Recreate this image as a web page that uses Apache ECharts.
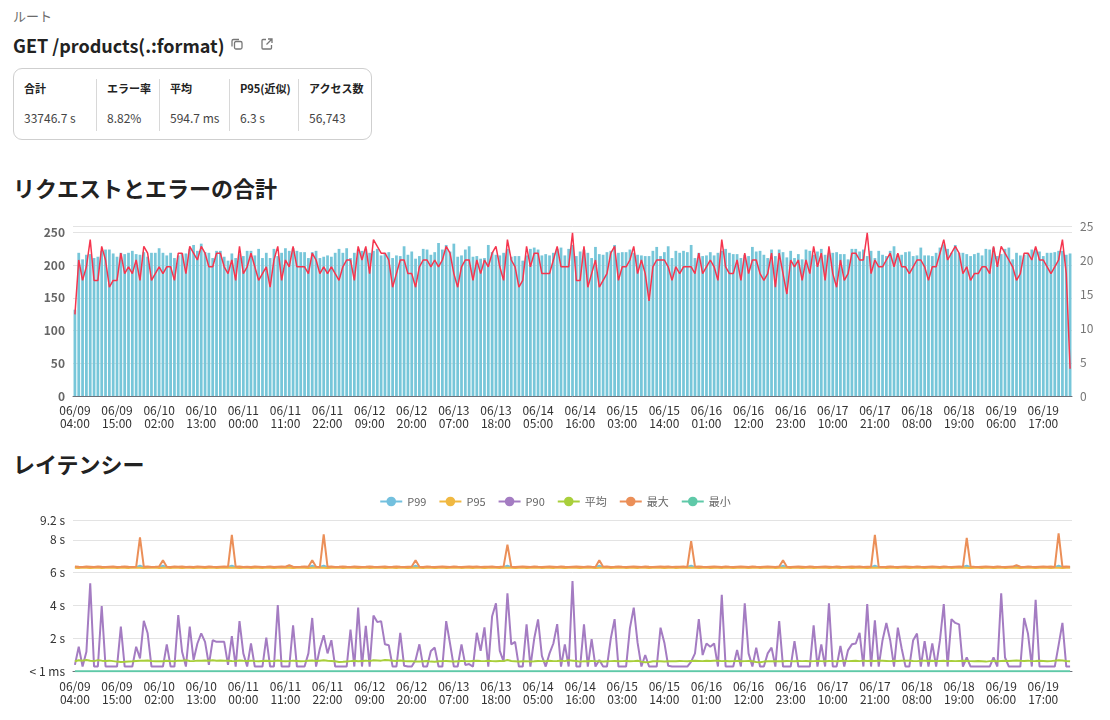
<!DOCTYPE html>
<html lang="ja">
<head>
<meta charset="utf-8">
<title>GET /products(.:format)</title>
<script src="https://cdn.jsdelivr.net/npm/echarts@6.0.0/dist/echarts.min.js"></script>
<style>
  body {
    margin: 0;
    width: 1110px;
    height: 720px;
    position: relative;
    overflow: hidden;
    background: #fff;
    color: #222;
    font-family: "Noto Sans CJK JP", "Noto Sans", sans-serif;
  }
  .crumb { position: absolute; left: 13px; top: 6px; font-size: 13px; color: #6b6b6b; }
  .route { position: absolute; left: 13px; top: 32px; font-size: 18px; font-weight: bold; line-height: 26px; }
  .icon { position: absolute; top: 37px; }
  .stats {
    position: absolute; left: 13px; top: 68px; width: 357px; height: 70px;
    border: 1px solid #cfcfcf; border-radius: 9px; display: flex;
  }
  .cell { padding-left: 10px; margin-top: 10px; height: 52px; box-sizing: border-box; }
  .cell + .cell { border-left: 1px solid #d8d8d8; }
  .cell .h { font-size: 11px; font-weight: bold; line-height: 16px; margin-top: 1px; color: #222; }
  .cell .v { font-size: 12px; line-height: 16px; margin-top: 14px; color: #444; }
  .section { position: absolute; left: 13px; font-size: 22px; font-weight: bold; line-height: 28px; }
  .chart { position: absolute; left: 0; width: 1110px; height: 240px; }
</style>
</head>
<body>
<div class="crumb">ルート</div>
<div class="route">GET /products(.:format)</div>
<svg class="icon" style="left:230px" width="14" height="14" viewBox="0 0 14 14" fill="none" stroke="#777" stroke-width="1.3">
  <rect x="4.5" y="4.5" width="7.5" height="7.5" rx="1.5"/>
  <path d="M9 2.5 H3.5 A1.5 1.5 0 0 0 2 4 V9.5"/>
</svg>
<svg class="icon" style="left:260px" width="14" height="14" viewBox="0 0 14 14" fill="none" stroke="#777" stroke-width="1.3">
  <path d="M6 2.5 H3 A1 1 0 0 0 2 3.5 V11 A1 1 0 0 0 3 12 H10.5 A1 1 0 0 0 11.5 11 V8"/>
  <path d="M8 2 H12 V6 M12 2 L6.5 7.5"/>
</svg>

<div class="stats">
  <div class="cell" style="width:82px"><div class="h">合計</div><div class="v">33746.7 s</div></div>
  <div class="cell" style="width:63px"><div class="h">エラー率</div><div class="v">8.82%</div></div>
  <div class="cell" style="width:70px"><div class="h">平均</div><div class="v">594.7 ms</div></div>
  <div class="cell" style="width:69px"><div class="h">P95(近似)</div><div class="v">6.3 s</div></div>
  <div class="cell" style="width:73px"><div class="h">アクセス数</div><div class="v">56,743</div></div>
</div>

<div class="section" style="top:173px">リクエストとエラーの合計</div>
<div id="chart_total" class="chart" style="top:200px"></div>

<div class="section" style="top:449px">レイテンシー</div>
<div id="chart_latency" class="chart" style="top:480px"></div>

<script>
// hourly buckets, 06/09 04:00 .. 06/20 00:00
const startTime = Date.UTC(2024, 5, 9, 4, 0);
const bucketCount = 261;
const categories = [];
for (let i = 0; i < bucketCount; i++) {
    const d = new Date(startTime + i * 3600 * 1000);
    const p = n => String(n).padStart(2, '0');
    categories.push(p(d.getUTCMonth() + 1) + '/' + p(d.getUTCDate()) + '\n' + p(d.getUTCHours()) + ':00');
}

// requests per hour (bars, left axis)
const requests = [
    132,219,209,216,217,211,213,222,224,224,
    218,213,219,217,219,222,217,216,220,213,
    219,219,226,219,215,219,211,215,218,218,
    225,231,222,233,220,219,211,222,222,213,
    207,218,211,217,214,222,222,215,225,211,
    219,211,225,214,219,226,222,226,222,220,
    220,211,220,222,211,213,215,213,219,225,
    219,226,211,219,224,222,225,219,222,225,
    215,219,220,211,215,214,229,216,
    221,210,214,225,224,216,220,234,224,231,
    221,233,213,215,224,229,213,214,210,211,
    231,220,216,215,219,225,213,214,214,207,
    215,225,227,224,215,217,215,219,225,227,
    215,225,231,214,221,224,219,211,228,217,
    216,220,222,231,219,220,220,224,219,216,
    215,214,214,222,228,214,220,229,211,222,
    219,222,220,231,211,219,214,215,220,215,
    219,222,225,219,217,217,
    211,216,214,228,221,222,216,211,224,214,
    224,220,212,222,211,217,209,224,222,216,
    221,225,216,219,219,220,217,217,209,225,
    225,221,224,214,222,211,222,216,214,222,
    229,217,216,220,221,214,215,227,215,215,
    214,219,227,232,225,219,231,219,219,217,
    214,217,219,215,225,224,227,214,217,225,
    227,209,219,215,216,219,224,225,221,214,
    219,219,220,222,222,216,218
];

// errors per hour (line, right axis)
const errors = [
    12,20,17,19,23,17,17,22,20,16,
    17,17,21,18,19,18,20,17,22,21,
    17,18,19,18,19,19,17,21,21,18,
    22,21,20,22,21,19,19,21,21,19,
    18,20,17,22,18,19,21,19,17,18,
    19,16,20,22,17,20,19,22,19,19,
    19,18,21,20,18,19,18,19,18,17,
    19,20,20,17,22,20,22,18,23,22,
    21,21,20,16,18,20,20,18,
    18,16,19,20,20,19,20,19,20,22,
    21,18,16,19,20,20,17,20,18,20,
    19,21,22,19,17,23,20,19,16,17,
    22,19,21,21,18,18,18,20,22,19,
    19,19,24,17,17,22,16,18,20,16,
    17,18,21,22,17,19,19,20,22,18,
    20,18,14,19,20,20,20,19,17,19,
    18,19,19,19,18,21,18,19,20,19,
    17,23,19,18,18,20,
    17,21,18,20,20,18,17,18,21,
    16,21,18,15,20,19,20,17,20,18,
    22,19,21,17,22,18,16,20,17,18,
    21,21,20,20,24,18,20,19,19,20,
    21,19,21,19,19,18,19,20,20,19,
    17,19,19,21,23,20,21,22,21,18,
    19,17,18,18,19,19,18,22,19,22,
    21,20,19,17,18,21,21,20,22,20,
    20,19,18,19,20,23,18,4
];

// latency in seconds
const p99 = [
    6.34,6.33,6.35,6.34,6.33,6.34,6.35,6.33,6.34,6.34,
    6.35,6.33,6.34,6.34,6.33,6.35,6.34,6.42,6.34,6.33,
    6.34,6.35,6.33,6.42,6.34,6.33,6.35,6.34,6.33,6.34,
    6.34,6.33,6.35,6.34,6.33,6.34,6.35,6.33,6.34,6.34,
    6.35,6.42,6.34,6.33,6.34,6.35,6.33,6.34,6.34,6.33,
    6.35,6.34,6.33,6.34,6.35,6.34,6.40,6.33,6.34,6.35,
    6.34,6.33,6.42,6.34,6.35,6.42,6.33,6.34,6.34,6.35,
    6.33,6.34,6.35,6.34,6.33,6.34,6.35,6.33,6.34,6.34,
    6.35,6.33,6.34,6.34,6.33,6.35,6.34,6.33,6.34,6.42,
    6.34,6.33,6.35,6.34,6.33,6.34,6.35,6.33,6.34,6.34,
    6.35,6.33,6.34,6.34,6.33,6.35,6.34,6.33,6.34,6.35,
    6.34,6.33,6.35,6.42,6.34,6.33,6.34,6.35,6.33,6.34,
    6.34,6.35,6.33,6.34,6.34,6.33,6.35,6.34,6.33,6.34,
    6.35,6.34,6.33,6.34,6.35,6.34,6.33,6.42,6.34,6.35,
    6.33,6.34,6.34,6.35,6.33,6.34,6.34,6.33,6.35,6.34,
    6.33,6.34,6.35,6.34,6.33,6.34,6.35,6.33,6.34,6.34,
    6.35,6.42,6.34,6.33,6.34,6.35,6.33,6.34,6.34,6.33,
    6.35,6.34,6.33,6.34,6.35,6.34,6.33,6.34,6.35,6.33,
    6.34,6.34,6.35,6.33,6.34,6.42,6.34,6.33,6.35,6.34,
    6.33,6.34,6.35,6.33,6.34,6.34,6.35,6.33,6.34,6.34,
    6.33,6.35,6.34,6.33,6.34,6.35,6.34,6.33,6.34,6.42,
    6.34,6.35,6.33,6.34,6.34,6.33,6.35,6.34,6.33,6.34,
    6.35,6.34,6.33,6.34,6.35,6.34,6.33,6.34,6.35,6.33,
    6.34,6.34,6.35,6.42,6.33,6.34,6.34,6.33,6.35,6.34,
    6.33,6.34,6.35,6.33,6.34,6.34,6.40,6.33,6.34,6.35,
    6.34,6.33,6.34,6.35,6.34,6.33,6.34,6.42,6.33,6.34,
    6.34
];

const p95 = [
    6.30,6.29,6.31,6.30,6.29,6.30,6.31,6.29,6.30,6.30,
    6.31,6.29,6.30,6.30,6.29,6.31,6.30,6.30,6.29,6.30,
    6.30,6.31,6.29,6.30,6.30,6.29,6.31,6.30,6.29,6.30,
    6.30,6.29,6.31,6.30,6.29,6.30,6.31,6.29,6.30,6.30,
    6.31,6.30,6.30,6.29,6.30,6.31,6.29,6.30,6.30,6.29,
    6.31,6.30,6.29,6.30,6.31,6.30,6.30,6.29,6.30,6.31,
    6.30,6.29,6.30,6.30,6.31,6.30,6.29,6.30,6.30,6.31,
    6.29,6.30,6.31,6.30,6.29,6.30,6.31,6.29,6.30,6.30,
    6.31,6.29,6.30,6.30,6.29,6.31,6.30,6.29,6.30,6.30,
    6.30,6.29,6.31,6.30,6.29,6.30,6.31,6.29,6.30,6.30,
    6.31,6.29,6.30,6.30,6.29,6.31,6.30,6.29,6.30,6.31,
    6.30,6.29,6.31,6.30,6.30,6.29,6.30,6.31,6.29,6.30,
    6.30,6.31,6.29,6.30,6.30,6.29,6.31,6.30,6.29,6.30,
    6.31,6.30,6.29,6.30,6.31,6.30,6.29,6.30,6.30,6.31,
    6.29,6.30,6.30,6.31,6.29,6.30,6.30,6.29,6.31,6.30,
    6.29,6.30,6.31,6.30,6.29,6.30,6.31,6.29,6.30,6.30,
    6.31,6.30,6.30,6.29,6.30,6.31,6.29,6.30,6.30,6.29,
    6.31,6.30,6.29,6.30,6.31,6.30,6.29,6.30,6.31,6.29,
    6.30,6.30,6.31,6.29,6.30,6.30,6.30,6.29,6.31,6.30,
    6.29,6.30,6.31,6.29,6.30,6.30,6.31,6.29,6.30,6.30,
    6.29,6.31,6.30,6.29,6.30,6.31,6.30,6.29,6.30,6.30,
    6.30,6.31,6.29,6.30,6.30,6.29,6.31,6.30,6.29,6.30,
    6.31,6.30,6.29,6.30,6.31,6.30,6.29,6.30,6.31,6.29,
    6.30,6.30,6.31,6.30,6.29,6.30,6.30,6.29,6.31,6.30,
    6.29,6.30,6.31,6.29,6.30,6.30,6.30,6.29,6.30,6.31,
    6.30,6.29,6.30,6.31,6.30,6.29,6.30,6.30,6.29,6.30,
    6.30
];

const p90 = [
    0.4,1.5,0.3,1.2,5.35,0.3,0.3,3.98,0.3,0.3,
    0.3,0.3,2.72,0.3,0.3,0.3,1.5,0.8,3.08,2.32,
    0.3,0.3,0.3,0.3,1.65,0.3,0.3,3.43,1.2,0.3,
    2.72,0.7,1.7,2.32,1.8,0.4,1.9,1.8,1.8,1.8,
    0.4,2.15,0.3,3.06,1.1,0.3,1.7,0.3,0.3,0.3,
    2.06,0.3,0.3,4.04,0.3,0.3,0.3,2.8,0.3,0.3,
    0.3,1.1,3.25,0.3,1.4,2.2,1.1,1.9,0.3,0.3,
    0.3,0.3,2.55,0.3,3.88,0.3,2.77,0.3,3.4,3.0,
    3.06,1.65,1.6,0.3,0.3,2.35,0.35,0.3,
    0.3,0.7,1.65,0.3,0.3,1.25,1.45,0.3,0.3,3.06,
    1.7,0.3,0.3,1.65,0.4,0.45,0.3,2.35,1.25,2.68,
    0.3,3.36,4.14,1.25,0.6,4.75,1.65,1.8,0.3,0.3,
    2.86,0.3,2.0,3.16,0.95,0.3,1.1,1.7,2.88,0.3,
    1.65,0.3,5.5,0.3,0.3,2.86,0.3,1.96,0.3,0.7,
    0.3,0.3,2.0,3.18,0.3,0.3,0.3,2.63,3.88,1.75,
    0.3,1.0,0.3,0.3,0.3,2.66,1.75,0.35,0.3,0.3,
    0.3,0.3,0.3,0.6,1.1,3.18,1.0,1.7,1.5,1.7,
    0.3,4.65,0.3,0.3,0.3,1.3,
    0.3,4.14,1.1,0.3,1.45,0.3,0.3,1.1,1.45,0.3,
    3.06,0.3,0.3,0.3,1.85,0.3,0.3,0.3,0.3,2.8,
    0.3,1.65,0.3,4.14,0.3,0.3,1.55,0.3,1.3,1.65,
    1.7,2.35,0.3,4.1,0.3,3.1,0.3,1.9,2.95,1.9,
    0.3,2.66,1.4,0.3,0.3,1.9,2.3,0.3,1.85,0.3,
    1.7,0.3,1.9,4.1,0.3,3.18,2.95,2.86,0.3,0.85,
    0.3,0.3,0.3,0.3,0.3,0.3,0.85,0.3,4.75,0.85,
    0.3,0.3,0.3,0.3,3.25,2.3,0.3,4.35,0.3,0.3,
    0.3,0.3,0.3,1.6,2.95,0.3,0.3
];

const avg = [
    0.62,0.68,0.66,0.70,0.65,0.63,0.69,0.66,0.64,0.66,
    0.63,0.60,0.58,0.59,0.61,0.62,0.64,0.66,0.65,0.67,
    0.64,0.62,0.63,0.62,0.65,0.63,0.62,0.66,0.65,0.68,
    0.64,0.63,0.66,0.65,0.67,0.66,0.68,0.66,0.67,0.65,
    0.66,0.64,0.63,0.67,0.65,0.64,0.66,0.63,0.62,0.64,
    0.66,0.64,0.63,0.67,0.64,0.62,0.63,0.66,0.64,0.62,
    0.63,0.65,0.67,0.64,0.66,0.68,0.65,0.64,0.62,0.58,
    0.59,0.61,0.63,0.65,0.62,0.64,0.66,0.63,0.68,0.67,
    0.66,0.70,0.68,0.66,0.64,0.67,0.64,0.62,0.63,0.61,
    0.60,0.62,0.64,0.60,0.59,0.62,0.63,0.64,0.62,0.60,
    0.62,0.64,0.63,0.62,0.64,0.66,0.64,0.63,0.65,0.63,
    0.62,0.64,0.63,0.70,0.64,0.62,0.60,0.62,0.63,0.61,
    0.62,0.64,0.63,0.62,0.65,0.63,0.64,0.66,0.63,0.68,
    0.66,0.64,0.60,0.63,0.62,0.64,0.63,0.62,0.60,0.62,
    0.63,0.64,0.62,0.63,0.64,0.62,0.63,0.65,0.60,0.56,
    0.58,0.62,0.63,0.62,0.61,0.62,0.63,0.62,0.64,0.63,
    0.62,0.64,0.65,0.64,0.63,0.65,0.64,0.66,0.65,0.63,
    0.64,0.62,0.63,0.64,0.62,0.63,0.64,0.62,0.58,0.56,
    0.60,0.62,0.63,0.62,0.63,0.62,0.64,0.63,0.62,0.64,
    0.63,0.64,0.62,0.63,0.64,0.63,0.62,0.64,0.63,0.62,
    0.64,0.66,0.63,0.64,0.65,0.63,0.66,0.64,0.65,0.64,
    0.66,0.65,0.64,0.63,0.65,0.64,0.66,0.65,0.66,0.64,
    0.63,0.65,0.66,0.64,0.65,0.63,0.64,0.65,0.63,0.64,
    0.63,0.64,0.65,0.64,0.63,0.62,0.64,0.62,0.60,0.63,
    0.64,0.62,0.64,0.66,0.64,0.66,0.67,0.65,0.64,0.66,
    0.63,0.64,0.66,0.64,0.62,0.63,0.66,0.68,0.67,0.64,
    0.62
];

const max = [
    6.38,6.36,6.35,6.37,6.36,6.35,6.38,6.36,6.35,6.36,
    6.37,6.35,6.36,6.38,6.36,6.35,6.36,8.15,6.36,6.37,
    6.35,6.36,6.38,6.75,6.36,6.35,6.37,6.36,6.38,6.35,
    6.36,6.35,6.37,6.36,6.35,6.38,6.36,6.35,6.36,6.37,
    6.36,8.30,6.36,6.38,6.35,6.36,6.35,6.37,6.36,6.35,
    6.36,6.38,6.35,6.36,6.37,6.36,6.45,6.36,6.35,6.36,
    6.38,6.36,6.75,6.36,6.35,8.33,6.36,6.37,6.35,6.36,
    6.38,6.36,6.35,6.37,6.36,6.35,6.36,6.38,6.36,6.35,
    6.36,6.37,6.35,6.36,6.38,6.36,6.35,6.36,6.37,6.75,
    6.36,6.35,6.38,6.36,6.35,6.36,6.37,6.36,6.35,6.38,
    6.36,6.35,6.36,6.37,6.36,6.38,6.35,6.36,6.36,6.37,
    6.35,6.36,6.38,7.70,6.36,6.35,6.36,6.37,6.36,6.35,
    6.38,6.36,6.35,6.36,6.37,6.36,6.35,6.38,6.36,6.35,
    6.36,6.37,6.36,6.35,6.38,6.36,6.35,6.75,6.36,6.37,
    6.35,6.36,6.38,6.36,6.35,6.36,6.37,6.36,6.35,6.38,
    6.36,6.35,6.36,6.37,6.36,6.38,6.35,6.36,6.36,6.37,
    6.35,7.92,6.36,6.38,6.36,6.35,6.36,6.37,6.36,6.35,
    6.38,6.36,6.35,6.36,6.37,6.36,6.35,6.38,6.36,6.35,
    6.36,6.37,6.36,6.35,6.38,6.75,6.36,6.35,6.36,6.37,
    6.36,6.35,6.38,6.36,6.35,6.36,6.37,6.36,6.35,6.38,
    6.36,6.35,6.36,6.37,6.36,6.38,6.35,6.36,6.36,8.30,
    6.36,6.35,6.36,6.38,6.36,6.35,6.36,6.37,6.36,6.35,
    6.38,6.36,6.35,6.36,6.37,6.36,6.35,6.38,6.36,6.35,
    6.36,6.37,6.36,8.12,6.38,6.36,6.35,6.36,6.37,6.36,
    6.35,6.38,6.36,6.35,6.36,6.37,6.45,6.36,6.35,6.38,
    6.36,6.35,6.36,6.37,6.36,6.38,6.35,8.39,6.36,6.37,
    6.36
];

const min = [
    0.01,0.01,0.01,0.01,0.01,0.01,0.01,0.01,0.01,0.01,
    0.01,0.01,0.01,0.01,0.01,0.01,0.01,0.01,0.01,0.01,
    0.01,0.01,0.01,0.01,0.01,0.01,0.01,0.01,0.01,0.01,
    0.01,0.01,0.01,0.01,0.01,0.01,0.01,0.01,0.01,0.01,
    0.01,0.01,0.01,0.01,0.01,0.01,0.01,0.01,0.01,0.01,
    0.01,0.01,0.01,0.01,0.01,0.01,0.01,0.01,0.01,0.01,
    0.01,0.01,0.01,0.01,0.01,0.01,0.01,0.01,0.01,0.01,
    0.01,0.01,0.01,0.01,0.01,0.01,0.01,0.01,0.01,0.01,
    0.01,0.01,0.01,0.01,0.01,0.01,0.01,0.01,0.01,0.01,
    0.01,0.01,0.01,0.01,0.01,0.01,0.01,0.01,0.01,0.01,
    0.01,0.01,0.01,0.01,0.01,0.01,0.01,0.01,0.01,0.01,
    0.01,0.01,0.01,0.01,0.01,0.01,0.01,0.01,0.01,0.01,
    0.01,0.01,0.01,0.01,0.01,0.01,0.01,0.01,0.01,0.01,
    0.01,0.01,0.01,0.01,0.01,0.01,0.01,0.01,0.01,0.01,
    0.01,0.01,0.01,0.01,0.01,0.01,0.01,0.01,0.01,0.01,
    0.01,0.01,0.01,0.01,0.01,0.01,0.01,0.01,0.01,0.01,
    0.01,0.01,0.01,0.01,0.01,0.01,0.01,0.01,0.01,0.01,
    0.01,0.01,0.01,0.01,0.01,0.01,0.01,0.01,0.01,0.01,
    0.01,0.01,0.01,0.01,0.01,0.01,0.01,0.01,0.01,0.01,
    0.01,0.01,0.01,0.01,0.01,0.01,0.01,0.01,0.01,0.01,
    0.01,0.01,0.01,0.01,0.01,0.01,0.01,0.01,0.01,0.01,
    0.01,0.01,0.01,0.01,0.01,0.01,0.01,0.01,0.01,0.01,
    0.01,0.01,0.01,0.01,0.01,0.01,0.01,0.01,0.01,0.01,
    0.01,0.01,0.01,0.01,0.01,0.01,0.01,0.01,0.01,0.01,
    0.01,0.01,0.01,0.01,0.01,0.01,0.01,0.01,0.01,0.01,
    0.01,0.01,0.01,0.01,0.01,0.01,0.01,0.01,0.01,0.01,
    0.01
];

const fontFamily = '"Noto Sans CJK JP", "Noto Sans", sans-serif';

const timeAxis = {
    type: 'category',
    data: categories,
    axisLine: { lineStyle: { color: '#6e7079' } },
    axisTick: { interval: 10, lineStyle: { color: '#6e7079' } },
    axisLabel: {
        interval: 10,
        color: '#333',
        fontSize: 12,
        lineHeight: 13,
        fontFamily: fontFamily
    }
};

let totalChart = echarts.init(document.getElementById('chart_total'));
totalChart.setOption({
    animation: false,
    textStyle: { fontFamily: fontFamily },
    grid: { left: 73, right: 38, top: 26, bottom: 44, containLabel: false },
    xAxis: timeAxis,
    yAxis: [
        {
            type: 'value',
            min: 0,
            max: 260,
            interval: 50,
            axisLabel: { color: '#666', fontWeight: 'bold', fontSize: 12, showMaxLabel: false },
            splitLine: { lineStyle: { color: '#e3e3e3' } }
        },
        {
            type: 'value',
            min: 0,
            max: 25,
            interval: 5,
            axisLabel: { color: '#777', fontSize: 12 },
            splitLine: { show: false }
        }
    ],
    series: [
        {
            name: 'リクエスト',
            type: 'bar',
            data: requests,
            barCategoryGap: '28%',
            itemStyle: { color: '#77c6d9' }
        },
        {
            name: 'エラー',
            type: 'line',
            yAxisIndex: 1,
            data: errors,
            showSymbol: false,
            lineStyle: { color: '#f5354e', width: 1.5 },
            itemStyle: { color: '#f5354e' }
        }
    ]
});

const latencyColors = ['#73c0de', '#f0b841', '#a47cc2', '#a9cf3b', '#eb8f58', '#5fc9a8'];

function latencyLine(name, data, color) {
    return {
        name: name,
        type: 'line',
        data: data,
        symbol: 'circle',
        symbolSize: 6,
        showSymbol: false,
        lineStyle: { color: color, width: 2 },
        itemStyle: { color: color }
    };
}

let latencyChart = echarts.init(document.getElementById('chart_latency'));
latencyChart.setOption({
    animation: false,
    textStyle: { fontFamily: fontFamily },
    legend: {
        top: 11,
        left: 'center',
        itemWidth: 22,
        itemHeight: 12,
        itemGap: 12,
        textStyle: { color: '#666', fontSize: 11 }
    },
    grid: { left: 73, right: 38, top: 40, bottom: 48.5, containLabel: false },
    xAxis: timeAxis,
    yAxis: {
        type: 'value',
        min: 0,
        max: 9.2,
        interval: 2,
        axisLabel: {
            color: '#333',
            fontSize: 12,
            formatter: function (v) {
                return v === 0 ? '< 1 ms' : v + ' s';
            }
        },
        splitLine: { lineStyle: { color: '#e3e3e3' } }
    },
    series: [
        latencyLine('P99', p99, latencyColors[0]),
        latencyLine('P95', p95, latencyColors[1]),
        latencyLine('P90', p90, latencyColors[2]),
        latencyLine('平均', avg, latencyColors[3]),
        latencyLine('最大', max, latencyColors[4]),
        latencyLine('最小', min, latencyColors[5])
    ]
});
</script>
</body>
</html>
